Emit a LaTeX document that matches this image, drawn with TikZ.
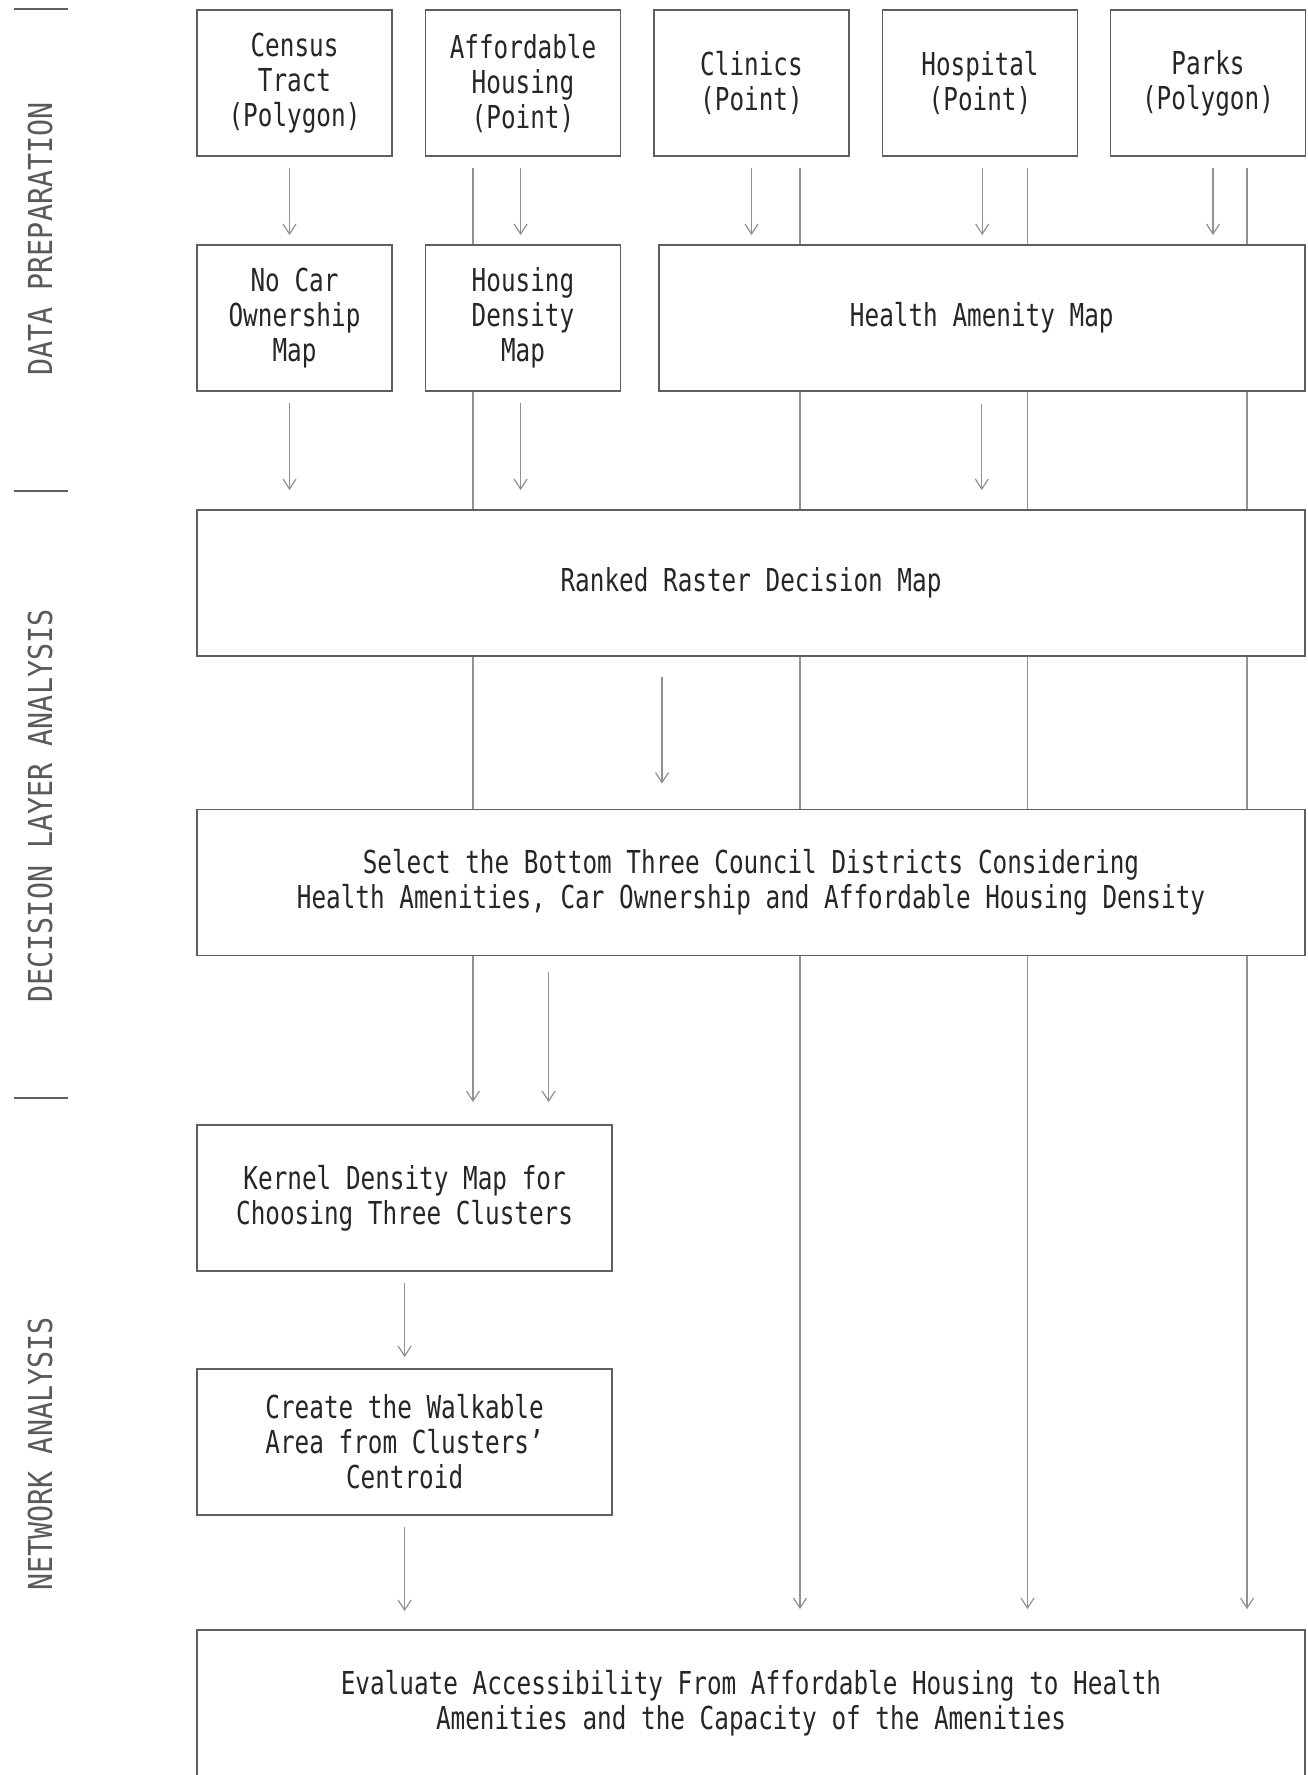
\documentclass[tikz,border=0pt]{standalone}
\usepackage{fontspec}
\setmonofont[FakeStretch=0.77]{DejaVu Sans Mono}
\newfontfamily\sectionfont[FakeStretch=0.86]{DejaVu Sans Mono}
\usetikzlibrary{arrows.meta}
\pgfdeclarelayer{bg}
\pgfsetlayers{bg,main}
\tikzset{
	box/.style={draw=boxgray, line width=0.9pt, fill=white, align=center, inner sep=0pt, minimum height=73pt, text=black!85, font=\ttfamily\fontsize{15.8}{17.5}\selectfont},
	flow/.style={draw=linegray, line width=0.6pt, -{Straight Barb[length=5pt,width=6.5pt]}},
	tick/.style={draw=boxgray, line width=0.9pt},
	sectionlabel/.style={rotate=90, text=labelgray, inner sep=0pt, font=\sectionfont\fontsize{16.5}{18}\selectfont},
}

\begin{document}
\begin{tikzpicture}[x=0.5pt,y=-0.5pt]
	\definecolor{boxgray}{RGB}{95,95,95}
	\definecolor{linegray}{RGB}{145,145,145}
	\definecolor{labelgray}{RGB}{90,90,90}
	
	\useasboundingbox (0,0) rectangle (1307,1775);
	
	\draw[tick] (14,9) -- (68,9);
	\draw[tick] (14,491) -- (68,491);
	\draw[tick] (14,1098) -- (68,1098);
	\node (prep) at (40,239) [sectionlabel] {DATA PREPARATION};
	\node (decision) at (40,806) [sectionlabel] {DECISION LAYER ANALYSIS};
	\node (network) at (40,1454) [sectionlabel] {NETWORK ANALYSIS};
	
	\node (census) at (294.5,83) [box, minimum width=97.5pt] {Census\\Tract\\(Polygon)};
	\node (afford) at (523,83) [box, minimum width=97.5pt] {Affordable\\Housing\\(Point)};
	\node (clinics) at (751.5,83) [box, minimum width=97.5pt] {Clinics\\(Point)};
	\node (hospital) at (980,83) [box, minimum width=97.5pt] {Hospital\\(Point)};
	\node (parks) at (1208,83) [box, minimum width=97.5pt] {Parks\\(Polygon)};
	
	\node (nocar) at (294.5,318) [box, minimum width=97.5pt] {No Car\\Ownership\\Map};
	\node (hdensity) at (523,318) [box, minimum width=97.5pt] {Housing\\Density\\Map};
	\node (amenity) at (981.8,318) [box, minimum width=323pt] {Health Amenity Map};
	
	\node (ranked) at (751,583) [box, minimum width=554pt] {Ranked Raster Decision Map};
	\node (select) at (751,882.5) [box, minimum width=554pt] {Select the Bottom Three Council Districts Considering\\Health Amenities, Car Ownership and Affordable Housing Density};
	
	\node (kernel) at (404.6,1198) [box, minimum width=207.5pt] {Kernel Density Map for\\Choosing Three Clusters};
	\node (walk) at (404.6,1442) [box, minimum width=207.5pt] {Create the Walkable\\Area from Clusters’\\Centroid};
	\node (evaluate) at (751,1703) [box, minimum width=554pt] {Evaluate Accessibility From Affordable Housing to Health\\Amenities and the Capacity of the Amenities};
	
	\coordinate (affordrail) at ([xshift=-25pt]afford.south);
	\coordinate (clinicsrail) at ([xshift=24.25pt]clinics.south);
	\coordinate (hospitalrail) at ([xshift=23.75pt]hospital.south);
	\coordinate (parksrail) at ([xshift=19.5pt]parks.south);
	\coordinate (censusout) at ([xshift=-2.5pt]census.south);
	\coordinate (affordout) at ([xshift=-1.2pt]afford.south);
	\coordinate (hospitalout) at ([xshift=1.1pt]hospital.south);
	\coordinate (parksout) at ([xshift=2.5pt]parks.south);
	\coordinate (rankedout) at ([xshift=-44.5pt]ranked.south);
	\coordinate (kernelin) at ([xshift=72pt]kernel.north);
	
	\begin{pgfonlayer}{bg}
	\draw[flow, shorten <=5.5pt, shorten >=11pt] (affordrail) -- (affordrail |- kernel.north);
	\draw[flow, shorten <=5.5pt, shorten >=10pt] (clinicsrail) -- (clinicsrail |- evaluate.north);
	\draw[flow, shorten <=5.5pt, shorten >=10pt] (hospitalrail) -- (hospitalrail |- evaluate.north);
	\draw[flow, shorten <=5.5pt, shorten >=10pt] (parksrail) -- (parksrail |- evaluate.north);
	\end{pgfonlayer}
	
	\draw[flow, shorten <=5.5pt, shorten >=4.5pt] (censusout) -- (censusout |- nocar.north);
	\draw[flow, shorten <=5.5pt, shorten >=4.5pt] (affordout) -- (affordout |- hdensity.north);
	\draw[flow, shorten <=5.5pt, shorten >=4.5pt] (clinics.south) -- (clinics.south |- amenity.north);
	\draw[flow, shorten <=5.5pt, shorten >=4.5pt] (hospitalout) -- (hospitalout |- amenity.north);
	\draw[flow, shorten <=5.5pt, shorten >=4.5pt] (parksout) -- (parksout |- amenity.north);
	
	\draw[flow, shorten <=5.5pt, shorten >=9.5pt] (censusout |- nocar.south) -- (censusout |- ranked.north);
	\draw[flow, shorten <=5.5pt, shorten >=9.5pt] (affordout |- hdensity.south) -- (affordout |- ranked.north);
	\draw[flow, shorten <=6pt, shorten >=9.5pt] (amenity.south) -- (amenity.south |- ranked.north);
	
	\draw[flow, shorten <=10pt, shorten >=12.5pt] (rankedout) -- (rankedout |- select.north);
	\draw[flow, shorten <=8pt, shorten >=11pt] (kernelin |- select.south) -- (kernelin);
	
	\draw[flow, shorten <=5.5pt, shorten >=5.5pt] (kernel) -- (walk);
	\draw[flow, shorten <=5.5pt, shorten >=9pt] (walk.south) -- (walk.south |- evaluate.north);
	
\end{tikzpicture}
\end{document}
